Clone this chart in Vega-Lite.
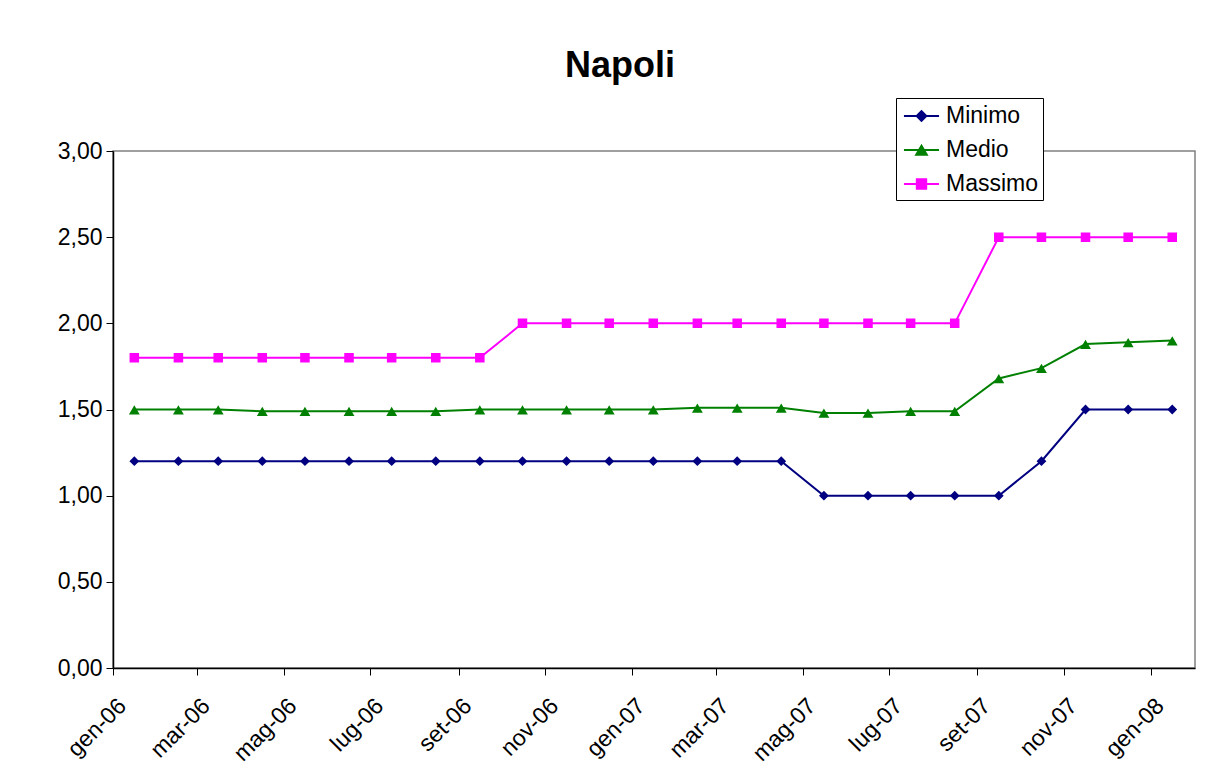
{
  "$schema": "https://vega.github.io/schema/vega-lite/v6.json",
  "width": 1082,
  "height": 517,
  "autosize": {"type": "none"},
  "padding": {"left": 113, "top": 151, "right": 28, "bottom": 97},
  "background": "white",
  "config": {
    "font": "Liberation Sans",
    "view": {"stroke": "#808080", "strokeWidth": 1.5},
    "legend": {
      "title": null,
      "orient": "none",
      "legendX": 783,
      "legendY": -53,
      "fillColor": "white",
      "strokeColor": "black",
      "padding": 4,
      "symbolSize": 676,
      "symbolOffset": 7.5,
      "labelOffset": 10.5,
      "rowPadding": 8,
      "labelFontSize": 23,
      "labelColor": "black",
      "symbolStrokeWidth": 2,
      "symbolOpacity": 1
    }
  },
  "title": {
    "text": "Napoli",
    "fontSize": 36,
    "fontWeight": "bold",
    "color": "black",
    "anchor": "middle",
    "dx": -34,
    "offset": 13
  },
  "data": {
    "values": [
      {"date": "2006-01-16", "serie": "Minimo", "valore": 1.2},
      {"date": "2006-02-16", "serie": "Minimo", "valore": 1.2},
      {"date": "2006-03-16", "serie": "Minimo", "valore": 1.2},
      {"date": "2006-04-16", "serie": "Minimo", "valore": 1.2},
      {"date": "2006-05-16", "serie": "Minimo", "valore": 1.2},
      {"date": "2006-06-16", "serie": "Minimo", "valore": 1.2},
      {"date": "2006-07-16", "serie": "Minimo", "valore": 1.2},
      {"date": "2006-08-16", "serie": "Minimo", "valore": 1.2},
      {"date": "2006-09-16", "serie": "Minimo", "valore": 1.2},
      {"date": "2006-10-16", "serie": "Minimo", "valore": 1.2},
      {"date": "2006-11-16", "serie": "Minimo", "valore": 1.2},
      {"date": "2006-12-16", "serie": "Minimo", "valore": 1.2},
      {"date": "2007-01-16", "serie": "Minimo", "valore": 1.2},
      {"date": "2007-02-16", "serie": "Minimo", "valore": 1.2},
      {"date": "2007-03-16", "serie": "Minimo", "valore": 1.2},
      {"date": "2007-04-16", "serie": "Minimo", "valore": 1.2},
      {"date": "2007-05-16", "serie": "Minimo", "valore": 1.0},
      {"date": "2007-06-16", "serie": "Minimo", "valore": 1.0},
      {"date": "2007-07-16", "serie": "Minimo", "valore": 1.0},
      {"date": "2007-08-16", "serie": "Minimo", "valore": 1.0},
      {"date": "2007-09-16", "serie": "Minimo", "valore": 1.0},
      {"date": "2007-10-16", "serie": "Minimo", "valore": 1.2},
      {"date": "2007-11-16", "serie": "Minimo", "valore": 1.5},
      {"date": "2007-12-16", "serie": "Minimo", "valore": 1.5},
      {"date": "2008-01-16", "serie": "Minimo", "valore": 1.5},
      {"date": "2006-01-16", "serie": "Medio", "valore": 1.5},
      {"date": "2006-02-16", "serie": "Medio", "valore": 1.5},
      {"date": "2006-03-16", "serie": "Medio", "valore": 1.5},
      {"date": "2006-04-16", "serie": "Medio", "valore": 1.49},
      {"date": "2006-05-16", "serie": "Medio", "valore": 1.49},
      {"date": "2006-06-16", "serie": "Medio", "valore": 1.49},
      {"date": "2006-07-16", "serie": "Medio", "valore": 1.49},
      {"date": "2006-08-16", "serie": "Medio", "valore": 1.49},
      {"date": "2006-09-16", "serie": "Medio", "valore": 1.5},
      {"date": "2006-10-16", "serie": "Medio", "valore": 1.5},
      {"date": "2006-11-16", "serie": "Medio", "valore": 1.5},
      {"date": "2006-12-16", "serie": "Medio", "valore": 1.5},
      {"date": "2007-01-16", "serie": "Medio", "valore": 1.5},
      {"date": "2007-02-16", "serie": "Medio", "valore": 1.51},
      {"date": "2007-03-16", "serie": "Medio", "valore": 1.51},
      {"date": "2007-04-16", "serie": "Medio", "valore": 1.51},
      {"date": "2007-05-16", "serie": "Medio", "valore": 1.48},
      {"date": "2007-06-16", "serie": "Medio", "valore": 1.48},
      {"date": "2007-07-16", "serie": "Medio", "valore": 1.49},
      {"date": "2007-08-16", "serie": "Medio", "valore": 1.49},
      {"date": "2007-09-16", "serie": "Medio", "valore": 1.68},
      {"date": "2007-10-16", "serie": "Medio", "valore": 1.74},
      {"date": "2007-11-16", "serie": "Medio", "valore": 1.88},
      {"date": "2007-12-16", "serie": "Medio", "valore": 1.89},
      {"date": "2008-01-16", "serie": "Medio", "valore": 1.9},
      {"date": "2006-01-16", "serie": "Massimo", "valore": 1.8},
      {"date": "2006-02-16", "serie": "Massimo", "valore": 1.8},
      {"date": "2006-03-16", "serie": "Massimo", "valore": 1.8},
      {"date": "2006-04-16", "serie": "Massimo", "valore": 1.8},
      {"date": "2006-05-16", "serie": "Massimo", "valore": 1.8},
      {"date": "2006-06-16", "serie": "Massimo", "valore": 1.8},
      {"date": "2006-07-16", "serie": "Massimo", "valore": 1.8},
      {"date": "2006-08-16", "serie": "Massimo", "valore": 1.8},
      {"date": "2006-09-16", "serie": "Massimo", "valore": 1.8},
      {"date": "2006-10-16", "serie": "Massimo", "valore": 2.0},
      {"date": "2006-11-16", "serie": "Massimo", "valore": 2.0},
      {"date": "2006-12-16", "serie": "Massimo", "valore": 2.0},
      {"date": "2007-01-16", "serie": "Massimo", "valore": 2.0},
      {"date": "2007-02-16", "serie": "Massimo", "valore": 2.0},
      {"date": "2007-03-16", "serie": "Massimo", "valore": 2.0},
      {"date": "2007-04-16", "serie": "Massimo", "valore": 2.0},
      {"date": "2007-05-16", "serie": "Massimo", "valore": 2.0},
      {"date": "2007-06-16", "serie": "Massimo", "valore": 2.0},
      {"date": "2007-07-16", "serie": "Massimo", "valore": 2.0},
      {"date": "2007-08-16", "serie": "Massimo", "valore": 2.0},
      {"date": "2007-09-16", "serie": "Massimo", "valore": 2.5},
      {"date": "2007-10-16", "serie": "Massimo", "valore": 2.5},
      {"date": "2007-11-16", "serie": "Massimo", "valore": 2.5},
      {"date": "2007-12-16", "serie": "Massimo", "valore": 2.5},
      {"date": "2008-01-16", "serie": "Massimo", "valore": 2.5}
    ]
  },
  "encoding": {
    "x": {
      "field": "date",
      "type": "temporal",
      "scale": {
        "type": "utc",
        "domain": ["2006-01-01", "2008-02-01"],
        "nice": false
      },
      "axis": {
        "title": null,
        "grid": false,
        "tickCount": {"interval": "month", "step": 2},
        "labelExpr": "['gen','feb','mar','apr','mag','giu','lug','ago','set','ott','nov','dic'][utcmonth(datum.value)] + '-' + utcFormat(datum.value, '%y')",
        "labelAngle": -45,
        "labelAlign": "right",
        "labelBaseline": "middle",
        "labelFontSize": 23,
        "labelColor": "black",
        "labelPadding": 27,
        "labelOffset": 9,
        "labelOverlap": false,
        "domainColor": "black",
        "domainWidth": 1.5,
        "tickColor": "black",
        "tickSize": 7,
        "tickWidth": 1
      }
    },
    "y": {
      "field": "valore",
      "type": "quantitative",
      "scale": {"domain": [0, 3], "nice": false, "zero": true},
      "axis": {
        "title": null,
        "grid": false,
        "values": [0, 0.5, 1, 1.5, 2, 2.5, 3],
        "labelExpr": "replace(format(datum.value, '.2f'), '.', ',')",
        "labelFontSize": 23,
        "labelColor": "black",
        "labelPadding": 4,
        "domainColor": "black",
        "domainWidth": 1.5,
        "tickColor": "black",
        "tickSize": 7,
        "tickWidth": 1
      }
    },
    "color": {
      "field": "serie",
      "type": "nominal",
      "scale": {
        "domain": ["Minimo", "Medio", "Massimo"],
        "range": ["#000080", "#008000", "#FF00FF"]
      }
    }
  },
  "layer": [
    {
      "mark": {"type": "line", "strokeWidth": 2}
    },
    {
      "mark": {"type": "point", "filled": true, "opacity": 1, "size": 700, "strokeWidth": 0},
      "encoding": {
        "shape": {
          "field": "serie",
          "type": "nominal",
          "scale": {
            "domain": ["Minimo", "Medio", "Massimo"],
            "range": [
              "M-1.35,0L1.35,0M-0.37,0L0,-0.37L0.37,0L0,0.37Z",
              "M-1.35,0L1.35,0M0,-0.33L0.41,0.37L-0.41,0.37Z",
              "M-1.35,0L1.35,0M-0.36,-0.36L0.36,-0.36L0.36,0.36L-0.36,0.36Z"
            ]
          }
        }
      }
    }
  ]
}
